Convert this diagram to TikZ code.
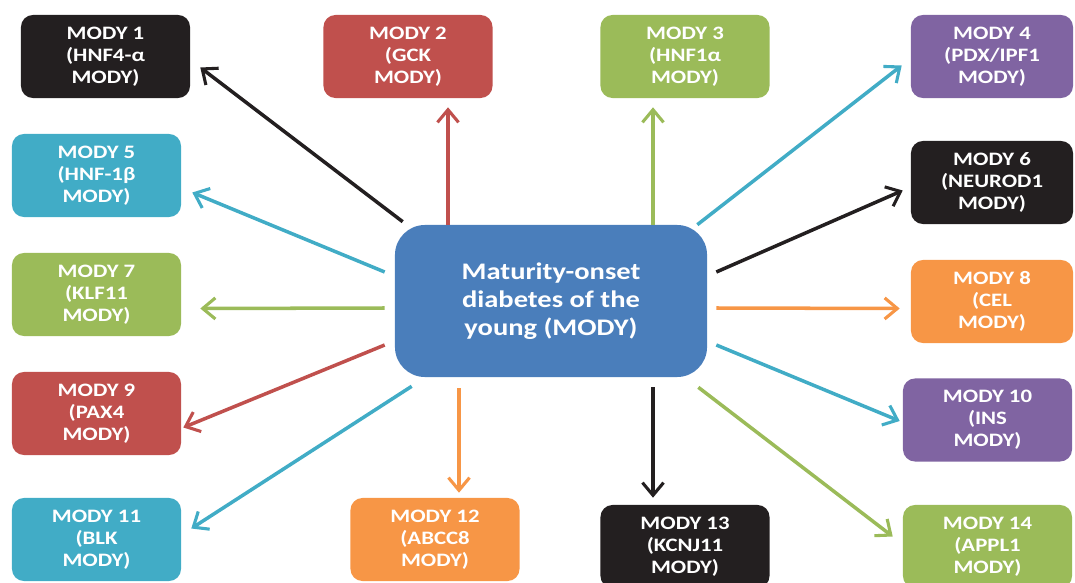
\documentclass[tikz,border=0pt]{standalone}
\usepackage{fontspec}
\setmainfont{Carlito}[FakeStretch=1.2]
\usetikzlibrary{calc,arrows.meta}

\definecolor{modyblack}{HTML}{231F20}
\definecolor{modyred}{HTML}{C0504D}
\definecolor{modygreen}{HTML}{9BBB59}
\definecolor{modypurple}{HTML}{8064A2}
\definecolor{modyteal}{HTML}{41ACC6}
\definecolor{modyorange}{HTML}{F79646}
\definecolor{modyblue}{HTML}{4A7EBB}

\begin{document}
\begin{tikzpicture}[x=0.025cm, y=-0.025cm]
        \tikzstyle{mody-box}=[rectangle, rounded corners=0.3cm, minimum width=4.225cm, minimum height=2.075cm, inner sep=0pt, text=white, align=center, font=\fontsize{13.5}{15.6}\selectfont\bfseries]
        \tikzstyle{narrow-box}=[mody-box, minimum width=4.05cm]
        \tikzstyle{hub}=[rectangle, rounded corners=0.75cm, fill=modyblue, minimum width=7.8cm, minimum height=3.8cm, text=white, align=center, font=\fontsize{16.9}{19.9}\selectfont\bfseries]
        \tikzstyle{link}=[-{Straight Barb[length=9pt,width=15pt,line width=2.2pt]}, line width=2.5pt]

        \useasboundingbox (0, 0) rectangle (1075, 583);

        \node[hub] (mody) at (551, 301) {Maturity-onset\\diabetes of the\\young (MODY)};

        % left column
        \node[mody-box, fill=modyblack] (mody1) at (105.5, 56.5) {MODY 1\\(HNF4-α\\MODY)};
        \node[mody-box, fill=modyteal] (mody5) at (96.5, 175.5) {MODY 5\\(HNF-1β\\MODY)};
        \node[mody-box, fill=modygreen] (mody7) at (96.5, 294.5) {MODY 7\\(KLF11\\MODY)};
        \node[mody-box, fill=modyred] (mody9) at (96.5, 413.5) {MODY 9\\(PAX4\\MODY)};
        \node[mody-box, fill=modyteal] (mody11) at (96.5, 539.5) {MODY 11\\(BLK\\MODY)};

        % top and bottom
        \node[mody-box, fill=modyred] (mody2) at (408, 56.5) {MODY 2\\(GCK\\MODY)};
        \node[mody-box, fill=modygreen] (mody3) at (685, 56.5) {MODY 3\\(HNF1α\\MODY)};
        \node[mody-box, fill=modyorange] (mody12) at (435, 539.5) {MODY 12\\(ABCC8\\MODY)};
        \node[mody-box, fill=modyblack] (mody13) at (685, 546.5) {MODY 13\\(KCNJ11\\MODY)};

        % right column
        \node[narrow-box, fill=modypurple] (mody4) at (992, 56.5) {MODY 4\\(PDX/IPF1\\MODY)};
        \node[narrow-box, fill=modyblack] (mody6) at (992, 182.5) {MODY 6\\(NEUROD1\\MODY)};
        \node[narrow-box, fill=modyorange] (mody8) at (992, 301.5) {MODY 8\\(CEL\\MODY)};
        \node[mody-box, fill=modypurple] (mody10) at (987.5, 420) {MODY 10\\(INS\\MODY)};
        \node[mody-box, fill=modygreen] (mody14) at (987.5, 546.5) {MODY 14\\(APPL1\\MODY)};

        \draw[link, modyblack] ($(mody.north west)+(8,-3)$) -- ($(mody1.east)+(10,11)$);
        \draw[link, modyred] ($(mody.north)+(-103,0)$) -- ($(mody2.south)+(40,9)$);
        \draw[link, modygreen] ($(mody.north)+(102,0)$) -- ($(mody3.south)+(-32,9)$);
        \draw[link, modyteal] ($(mody.north east)+(-10,0)$) -- ($(mody4.west)+(-9,9)$);
        \draw[link, modyteal] ($(mody.west)+(-10,-29)$) -- ($(mody5.east)+(11,17)$);
        \draw[link, modyblack] ($(mody.east)+(9,-29)$) -- ($(mody6.west)+(-8,8)$);
        \draw[link, modygreen] ($(mody.west)+(-10,7)$) -- ($(mody7.east)+(19,14)$);
        \draw[link, modyorange] ($(mody.east)+(9,7)$) -- ($(mody8.west)+(-11,7)$);
        \draw[link, modyred] ($(mody.west)+(-10,44)$) -- ($(mody9.east)+(2,14)$);
        \draw[link, modyteal] ($(mody.east)+(9,44)$) -- ($(mody10.west)+(-3,1)$);
        \draw[link, modyteal] ($(mody.south west)+(17,9)$) -- ($(mody11.east)+(10,-11)$);
        \draw[link, modyorange] ($(mody.south)+(-92,11)$) -- ($(mody12.north)+(24,-5)$);
        \draw[link, modyblack] ($(mody.south)+(102,10)$) -- ($(mody13.north)+(-32,-7)$);
        \draw[link, modygreen] ($(mody.south east)+(-9,10)$) -- ($(mody14.west)+(-10,-10)$);
\end{tikzpicture}
\end{document}
